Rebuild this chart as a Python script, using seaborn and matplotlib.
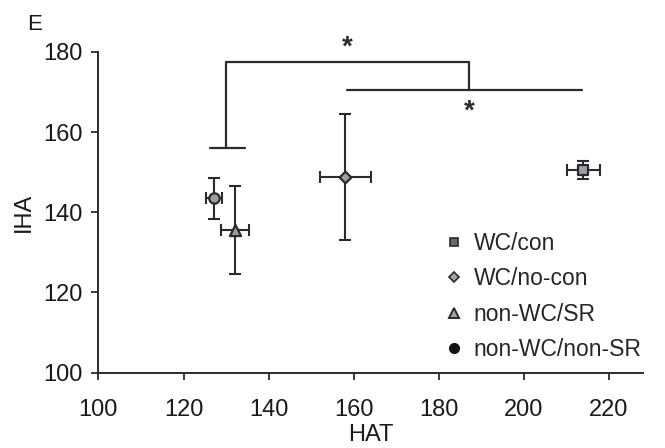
import numpy as np
import pandas as pd
import seaborn as sns
import matplotlib.pyplot as plt
from matplotlib.lines import Line2D

# group means and error bars
groups = ['WC/con', 'WC/no-con', 'non-WC/SR', 'non-WC/non-SR']
hat = [214.0, 158.0, 132.0, 127.1]
hat_err = [3.9, 6.0, 3.3, 1.9]
iha = [150.5, 148.8, 135.5, 143.5]
iha_err = [2.2, 15.7, 11.0, 5.1]

# significance brackets
bracket_x = [130.1, 187.0]
bracket_top = 177.6
bracket_base = 156.1
bracket_foot = [126.2, 134.4]
line2_x = [158.5, 213.7]
line2_y = 170.4
stars_x = [158.6, 187.2]
stars_y = [181.0, 165.0]

df = pd.DataFrame({'group': groups, 'HAT': hat, 'IHA': iha,
                   'xerr': hat_err, 'yerr': iha_err})

sns.set_style('ticks')
plt.rcParams['font.family'] = ['Liberation Sans', 'DejaVu Sans']

fig = plt.figure(figsize=(6.65, 4.48), dpi=100)
ax = fig.add_axes([0.148, 0.1685, 0.819, 0.7155])

ink = '#2b2b2b'
fill = '#a39aa6'
markers = {'WC/con': 's', 'WC/no-con': 'D', 'non-WC/SR': '^', 'non-WC/non-SR': 'o'}
sizes = {'WC/con': 7, 'WC/no-con': 6, 'non-WC/SR': 8, 'non-WC/non-SR': 7.5}

ax.errorbar(df['HAT'], df['IHA'], xerr=df['xerr'], yerr=df['yerr'], fmt='none',
            ecolor=ink, elinewidth=1.5, capsize=4, capthick=1.5, zorder=2)
for g in groups:
    sub = df[df['group'] == g]
    sns.scatterplot(data=sub, x='HAT', y='IHA', marker=markers[g], s=sizes[g] ** 2,
                    color=fill, edgecolor=ink, linewidth=1.6, ax=ax, zorder=3, legend=False)

# brackets
ax.plot(bracket_foot, [bracket_base, bracket_base], color=ink, lw=1.6, clip_on=False)
ax.plot([bracket_x[0], bracket_x[0], bracket_x[1], bracket_x[1]],
        [bracket_base, bracket_top, bracket_top, line2_y], color=ink, lw=1.6, clip_on=False)
ax.plot(line2_x, [line2_y, line2_y], color=ink, lw=1.6, clip_on=False)
for sx, sy in zip(stars_x, stars_y):
    ax.text(sx, sy, '*', ha='center', va='center', fontsize=20, fontweight='bold', color=ink, clip_on=False)

ax.set_xlim(100, 228)
ax.set_ylim(100, 180)
ax.set_xticks(range(100, 221, 20))
ax.set_yticks(range(100, 181, 20))
ax.tick_params(labelsize=17, length=5, width=1.3, color=ink, labelcolor='#1a1a1a')
ax.tick_params(axis='x', pad=14)
ax.tick_params(axis='y', pad=6.5)
for side in ['left', 'bottom']:
    ax.spines[side].set_linewidth(1.4)
    ax.spines[side].set_color(ink)
sns.despine(ax=ax)
ax.set_xlabel('HAT', fontsize=17, labelpad=2.5, color='#1a1a1a')
ax.set_ylabel('IHA', fontsize=17, labelpad=6, color='#1a1a1a')

handles = [
    Line2D([], [], ls='none', marker='s', ms=6, mfc='#6e6670', mec=ink, mew=1.2),
    Line2D([], [], ls='none', marker='D', ms=5.5, mfc='#a89fac', mec=ink, mew=1.2),
    Line2D([], [], ls='none', marker='^', ms=7, mfc='#a89fac', mec=ink, mew=1.4),
    Line2D([], [], ls='none', marker='o', ms=7, mfc='#141414', mec='#141414'),
]
ax.legend(handles, groups, loc='lower left', bbox_to_anchor=(0.62, 0.008), frameon=False,
          fontsize=16.5, handlelength=0.8, handletextpad=0.45, labelspacing=0.53,
          borderaxespad=0)

fig.text(0.041, 0.945, 'E', fontsize=16, color='#1a1a1a', va='center')

fig.savefig('out.png', dpi=100)
